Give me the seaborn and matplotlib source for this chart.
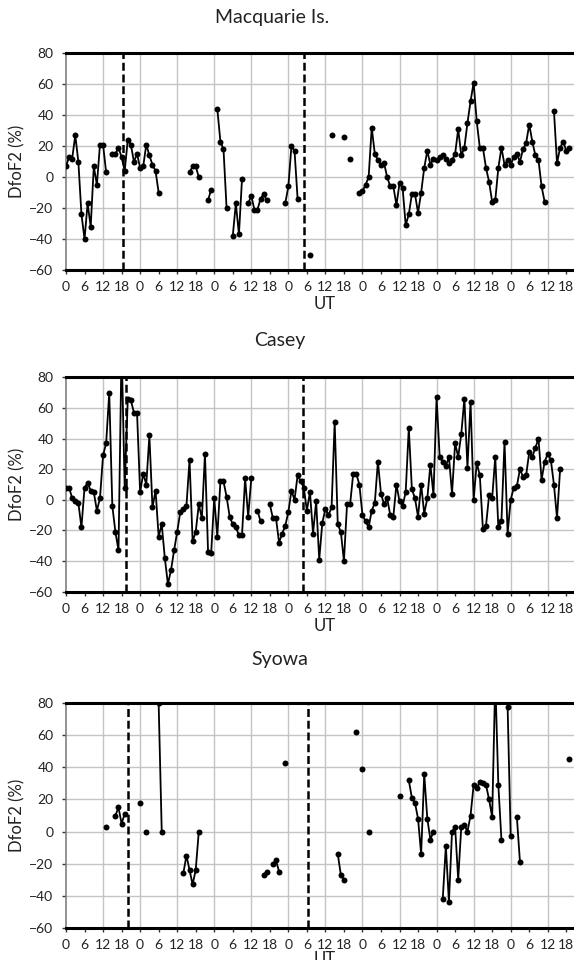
import matplotlib
matplotlib.use('Agg')
import matplotlib.pyplot as plt
import numpy as np
import pandas as pd
import seaborn as sns

N = None

# DfoF2 (%) for every UT hour (hour 0 .. 163), None = no data
macquarie = [
    7, 13, 12, 27, 10, -24, -40, -17, -32, 7, -5, 21, 21, 3, N, 15, 15, 19, 13, 4, 24, 21, 10, 15,
    6, 7, 21, 14, 8, 4, -10, N, N, N, N, N, N, N, N, N, 3, 7, 7, 0, N, N, -15, -8,
    N, 44, 23, 18, -20, N, -38, -17, -37, -1, N, -17, -12, -21, -21, -14, -11, -15, N, N, N, N, N, -17,
    -6, 20, 17, -14, N, N, N, -50, N, N, N, N, N, N, 27, N, N, N, 26, N, 12, N, N, -10,
    -9, -5, 0, 32, 15, 11, 8, 9, 0, -6, -6, -18, -4, -7, -31, -24, -11, -11, -23, -10, 6, 17, 8, 12,
    11, 13, 14, 12, 9, 11, 15, 31, 14, 19, 35, 49, 61, 36, 19, 19, 6, -3, -16, -15, 6, 19, 8, 11,
    8, 13, 15, 10, 18, 22, 34, 23, 14, 11, -6, -16, N, N, 43, 9, 19, 23, 17, 19,
]

casey = [
    8, 8, 1, -1, -2, -18, 8, 11, 6, 5, -7, 1, 29, 37, 70, -4, -21, -33, 100, 8, 66, 65, 57, 57,
    5, 17, 10, 42, -5, 6, -24, -16, -38, -55, -46, -33, -21, -8, -6, -4, 26, -27, -21, -3, -12, 30, -34, -35,
    1, -24, 12, 12, 2, -11, -16, -18, -23, -23, 14, -11, 14, N, -7, -14, N, N, -3, -12, -12, -28, -22, -17,
    -8, 6, 0, 16, 12, 8, -7, 5, -22, -1, -39, -15, -6, -10, -5, 51, -16, -21, -40, -3, -3, 17, 17, 10,
    -10, -14, -18, -7, -2, 25, 4, -3, 1, -10, -11, 10, -1, -4, 5, 47, 7, 1, -11, 10, -9, 1, 23, 3,
    67, 28, 25, 22, 28, 4, 37, 28, 43, 66, 21, 64, 0, 24, 16, -19, -17, 3, 1, 28, -18, -14, 38, -22,
    0, 8, 9, 20, 15, 16, 31, 28, 34, 40, 13, 25, 30, 26, 10, -12, 20, N, N, N,
]

syowa = [
    N, N, N, N, N, N, N, N, N, N, N, N, N, 3, N, N, 10, 15, 5, 11, N, N, N, N,
    18, N, 0, N, N, N, 80, 0, N, N, N, N, N, N, -26, -15, -24, -33, -24, 0, N, N, N, N,
    N, N, N, N, N, N, N, N, N, N, N, N, N, N, N, N, -27, -25, N, -20, -18, -25, N, 43,
    N, N, N, N, N, N, N, N, N, N, N, N, N, N, N, N, -14, -27, -30, N, N, N, 62, N,
    39, N, 0, N, N, N, N, N, N, N, N, N, 22, N, N, 32, 21, 18, 8, -14, 36, 8, -5, 0,
    N, N, -42, -9, -44, 0, 3, -30, 3, 4, 0, 10, 29, 27, 31, 30, 29, 20, 9, 95, 29, -5, N, 78,
    -3, N, 9, -19, N, N, N, N, N, N, N, N, N, N, N, N, N, N, N, 45,
]

stations = ["Macquarie Is.", "Casey", "Syowa"]
# UT hours of the dashed event markers in each panel
events = {"Macquarie Is.": [18.3, 77.0], "Casey": [19.5, 76.7], "Syowa": [20.0, 78.5]}


def to_frame(values):
    s = pd.Series(values, dtype=float)
    df = pd.DataFrame({"UT": np.arange(len(s)), "DfoF2": s, "segment": s.isna().cumsum()})
    return df.dropna()


sns.set_theme(style="white")
plt.rcParams["font.family"] = ["Lato", "DejaVu Sans"]

W, H = 574, 960
fig = plt.figure(figsize=(W / 100, H / 100), dpi=100)

# panel boxes in pixels: (top, bottom), title y, title x, UT label offset
boxes = [(53.3, 270.0, 18, 272, -26), (377.3, 591.7, 340, 280, -26), (703.3, 927.7, 660, 280, -23)]
left_px = 66

for name, values, (top, bot, ty, tx, ut_off) in zip(stations, [macquarie, casey, syowa], boxes):
    ax = fig.add_axes([left_px / W, 1 - bot / H, 1 - left_px / W, (bot - top) / H])
    df = to_frame(values)

    sns.lineplot(data=df, x="UT", y="DfoF2", units="segment", estimator=None,
                 color="black", linewidth=1.3, marker="o", markersize=4.3,
                 markeredgecolor="black", markeredgewidth=0, legend=False, ax=ax, zorder=4)

    for ev in events[name]:
        ax.axvline(ev, color="black", linewidth=1.8, linestyle=(0, (3.2, 1.5)), zorder=3)

    ax.set_xlim(0, 164.5)
    ax.set_ylim(-60, 80)
    ticks = np.arange(0, 164, 6)
    ax.set_xticks(ticks)
    ax.set_xticklabels([str(t % 24) for t in ticks])
    ax.xaxis.remove_overlapping_locs = False
    ax.set_xticks(np.arange(12, 164, 12), minor=True)
    ax.set_yticks(np.arange(-60, 81, 20))

    ax.tick_params(axis="both", which="major", direction="out", length=3, width=1,
                   color="#333333", labelsize=10, labelcolor="#222222")
    ax.tick_params(axis="x", which="major", pad=5, bottom=True)
    ax.tick_params(axis="y", which="major", pad=6, left=True)
    ax.tick_params(which="minor", length=0)

    ax.grid(False)
    ax.grid(True, which="major", axis="y", color="#c4c4c4", linewidth=1.0)
    ax.grid(True, which="minor", axis="x", color="#c4c4c4", linewidth=1.0)
    ax.set_axisbelow(True)

    for side in ["top", "bottom"]:
        ax.spines[side].set_color("black")
        ax.spines[side].set_linewidth(2.2)
    ax.spines["left"].set_color("#808080")
    ax.spines["left"].set_linewidth(1.2)
    ax.spines["right"].set_visible(False)

    hpx = bot - top
    ax.set_ylabel("DfoF2 (%)", fontsize=12, color="#222222")
    ax.yaxis.set_label_coords(-0.079, 0.5)
    ax.set_xlabel("UT", fontsize=12, color="#222222")
    ax.xaxis.set_label_coords((325 - left_px) / (W - left_px), ut_off / hpx)

    fig.text(tx / W, 1 - ty / H, name, ha="center", va="center", fontsize=14, color="#222222")

fig.savefig("out.png", dpi=100)
